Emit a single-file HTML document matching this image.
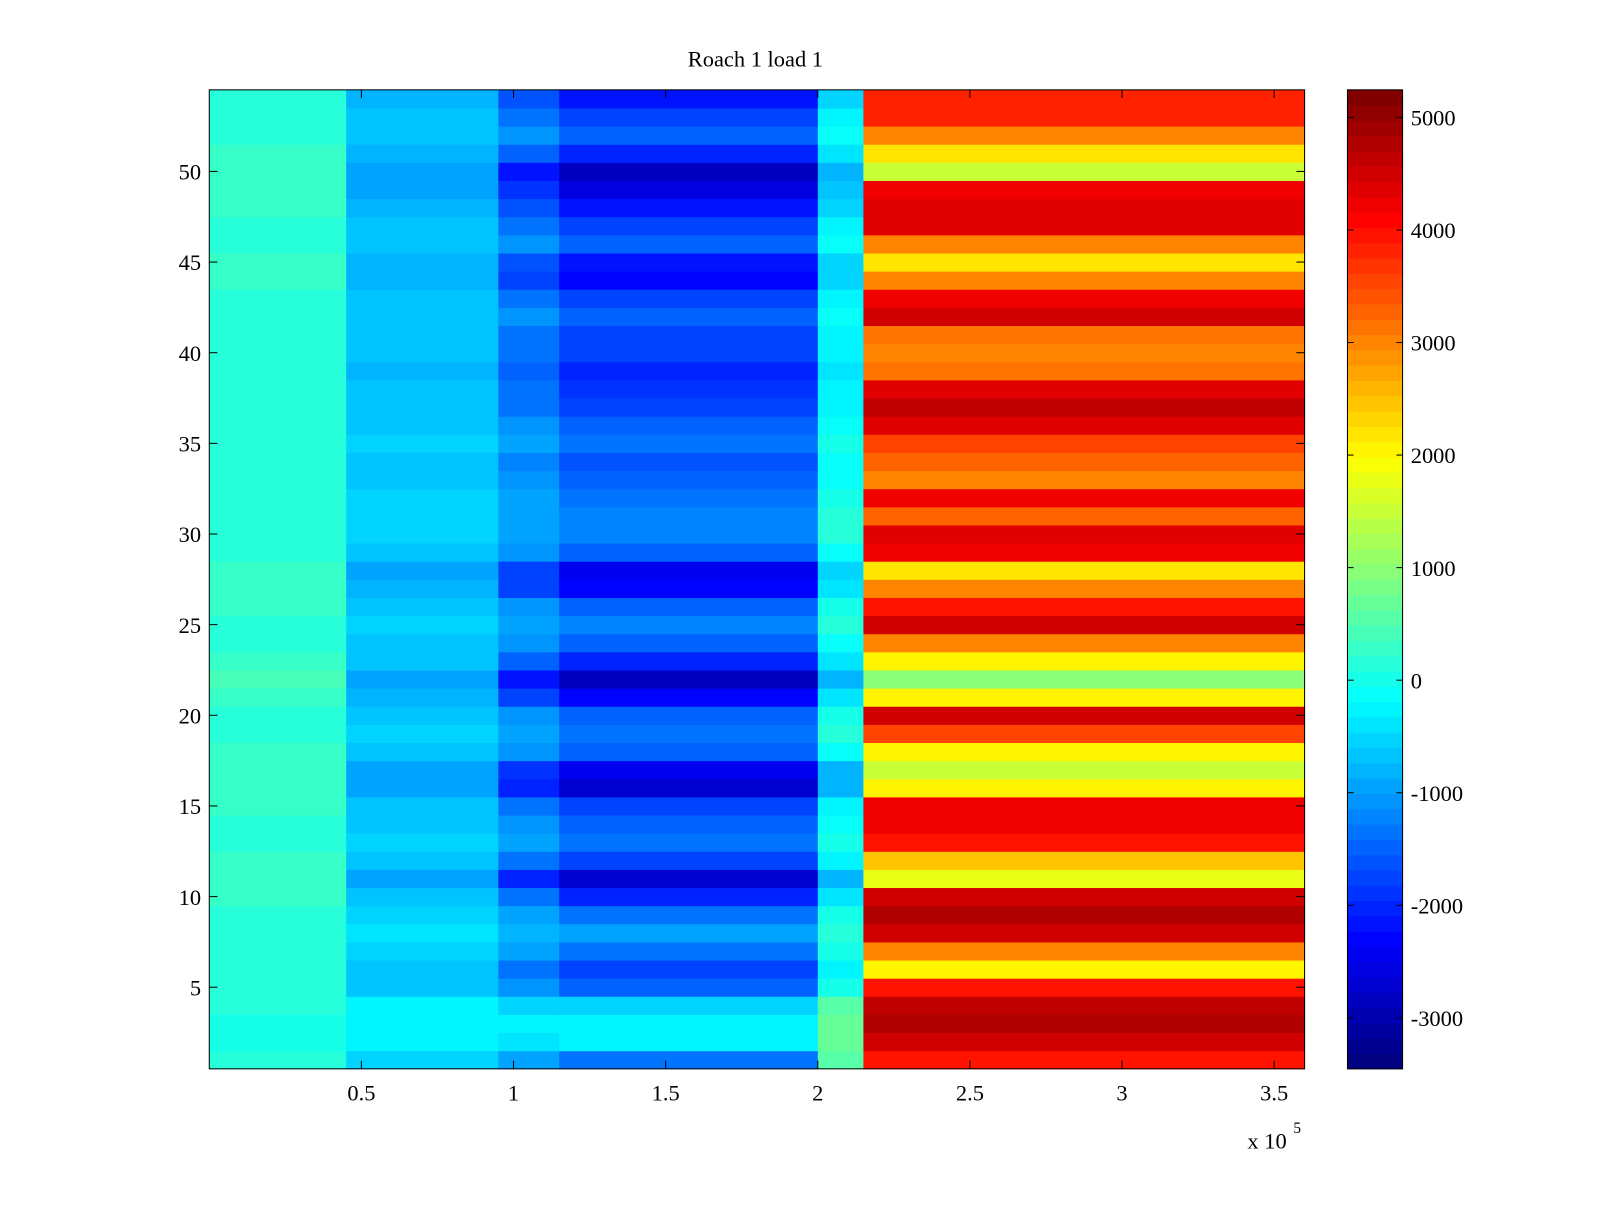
<!DOCTYPE html>
<html><head><meta charset="utf-8"><style>
html,body{margin:0;padding:0;background:#fff;}
svg text{font-family:"Liberation Serif",serif;font-size:22px;fill:#000;}
</style></head><body>
<svg id="chart" width="1600" height="1200" viewBox="0 0 1567.4 1175.5" preserveAspectRatio="none" xmlns="http://www.w3.org/2000/svg">
<rect width="1600" height="1200" fill="#fff"/>
<text x="740" y="65" text-anchor="middle">Roach 1 load 1</text>
<g id="cells"></g>
<g id="cbar"></g>
<rect x="205" y="88" width="1073" height="959" fill="none" stroke="#000" stroke-width="1"/>
<rect x="1320" y="88" width="54" height="959" fill="none" stroke="#000" stroke-width="1"/>
<g id="axes"></g>
<text x="1222" y="1125">x 10</text>
<text x="1267" y="1110" style="font-size:15px">5</text>
</svg>
<script>
// x-segment edges (x 10^5)
const segEdges = [0, 0.45, 0.95, 1.15, 2.0, 2.15, 3.6];
// per-row values (row 1 = bottom)
const leftVals = [100,0,0,100,200,200,200,100,100,250,300,250,200,200,250,300,300,250,200,200,250,400,300,200,200,250,250,250,200,200,200,150,200,200,200,200,200,200,200,200,200,200,200,250,250,200,200,250,250,300,250,200,200,200];
const innerVals = [-500,-300,-200,-300,-600,-700,-500,-400,-500,-700,-900,-700,-500,-600,-700,-900,-900,-600,-500,-600,-800,-900,-700,-600,-500,-600,-800,-900,-600,-500,-500,-500,-600,-600,-500,-600,-700,-700,-800,-700,-700,-600,-700,-800,-800,-600,-700,-800,-900,-1000,-800,-600,-700,-800];
const earlyMidVals = [-1000,-400,-300,-500,-1100,-1300,-1000,-800,-1000,-1400,-2000,-1400,-1000,-1100,-1300,-2000,-1900,-1100,-1000,-1100,-1700,-2100,-1500,-1100,-900,-1100,-1700,-1800,-1100,-900,-900,-1000,-1100,-1200,-1000,-1100,-1300,-1400,-1500,-1300,-1300,-1100,-1300,-1700,-1600,-1100,-1300,-1600,-1900,-2200,-1500,-1100,-1300,-1600];
const midVals = [-1300,-300,-200,-500,-1500,-1800,-1300,-1000,-1300,-2000,-2700,-1800,-1300,-1500,-1800,-2700,-2500,-1500,-1300,-1500,-2300,-2800,-2000,-1500,-1200,-1500,-2300,-2400,-1500,-1200,-1200,-1300,-1500,-1600,-1300,-1500,-1800,-1900,-2000,-1700,-1700,-1500,-1800,-2300,-2200,-1500,-1800,-2200,-2600,-2900,-2000,-1500,-1800,-2200];
const transVals = [500,700,700,600,0,-300,0,200,0,-400,-800,-300,0,-100,-300,-800,-800,-100,100,0,-400,-800,-400,-100,100,0,-400,-500,-100,100,100,0,-100,-100,0,-100,-300,-300,-400,-300,-300,-100,-300,-500,-500,-100,-300,-500,-700,-800,-400,-100,-300,-500];
const rightVals = [4000,4500,4800,4700,4000,2000,3000,4500,4800,4500,1800,2500,4000,4200,4200,2000,1500,2000,3500,4500,2000,1000,2000,3000,4500,4000,3000,2200,4200,4300,3300,4200,3000,3300,3500,4300,4600,4300,3200,3000,3200,4500,4200,3000,2200,3000,4300,4300,4200,1500,2200,3000,3800,3800];
const xTicks = [0.5,1,1.5,2,2.5,3,3.5];
const xTickLabels = ["0.5","1","1.5","2","2.5","3","3.5"];
const yTicks = [5,10,15,20,25,30,35,40,45,50];
const cTicks = [-3000,-2000,-1000,0,1000,2000,3000,4000,5000];

const NS="http://www.w3.org/2000/svg";
const X0=205,X1=1278,Y0=88,Y1=1047;
const xScale=v=>X0+(v-0)/(3.6-0)*(X1-X0);
const yScale=v=>Y1-(v-0.5)/54*(Y1-Y0);
const cMin=-3453,cMax=5245;
const cScale=v=>Y1-(v-cMin)/(cMax-cMin)*(Y1-Y0);
function jet(t){t=Math.max(0,Math.min(1,t));
 const f=x=>Math.max(0,Math.min(1,x));
 const r=f(Math.min(4*t-1.5,-4*t+4.5)),g=f(Math.min(4*t-0.5,-4*t+3.5)),b=f(Math.min(4*t+0.5,-4*t+2.5));
 return `rgb(${Math.round(r*255)},${Math.round(g*255)},${Math.round(b*255)})`;}
const col=v=>jet(Math.floor((v-cMin)/(cMax-cMin)*64)/63);
function mk(tag,attrs,parent){const e=document.createElementNS(NS,tag);for(const k in attrs)e.setAttribute(k,attrs[k]);parent.appendChild(e);return e;}
const cells=document.getElementById('cells');
const rows=[leftVals,innerVals,earlyMidVals,midVals,transVals,rightVals];
for(let r=0;r<54;r++){
 const yt=yScale(r+1.5),yb=yScale(r+0.5);
 for(let s=0;s<rows.length;s++){
  const xa=xScale(segEdges[s]),xb=xScale(segEdges[s+1]);
  const e=mk('rect',{x:xa,y:yt,width:xb-xa+0.5,height:yb-yt+0.5,fill:col(rows[s][r])},cells);
  
  
 }
}
const cbar=document.getElementById('cbar');
for(let i=0;i<64;i++){
 const ya=Y1-(i+1)/64*(Y1-Y0),yb=Y1-i/64*(Y1-Y0);
 const e=mk('rect',{x:1320,y:ya,width:54,height:yb-ya+0.5,fill:jet(i/63)},cbar);
 
 
}
const axes=document.getElementById('axes');
xTicks.forEach((v,i)=>{const x=xScale(v);
 mk('line',{x1:x,x2:x,y1:Y1,y2:Y1-8,stroke:'#000'},axes);
 mk('line',{x1:x,x2:x,y1:Y0,y2:Y0+8,stroke:'#000'},axes);
 const t=mk('text',{x:x,y:1078,'text-anchor':'middle'},axes);t.textContent=xTickLabels[i];
 
 
});
yTicks.forEach(v=>{const y=yScale(v);
 mk('line',{x1:X0,x2:X0+8,y1:y,y2:y,stroke:'#000'},axes);
 mk('line',{x1:X1,x2:X1-8,y1:y,y2:y,stroke:'#000'},axes);
 const t=mk('text',{x:197,y:y+8,'text-anchor':'end'},axes);t.textContent=v;
 
 
});
cTicks.forEach(v=>{const y=cScale(v);
 mk('line',{x1:1320,x2:1326,y1:y,y2:y,stroke:'#000'},axes);
 mk('line',{x1:1374,x2:1368,y1:y,y2:y,stroke:'#000'},axes);
 const t=mk('text',{x:1382,y:y+8},axes);t.textContent=v;
 
 
});
</script>
</body></html>
